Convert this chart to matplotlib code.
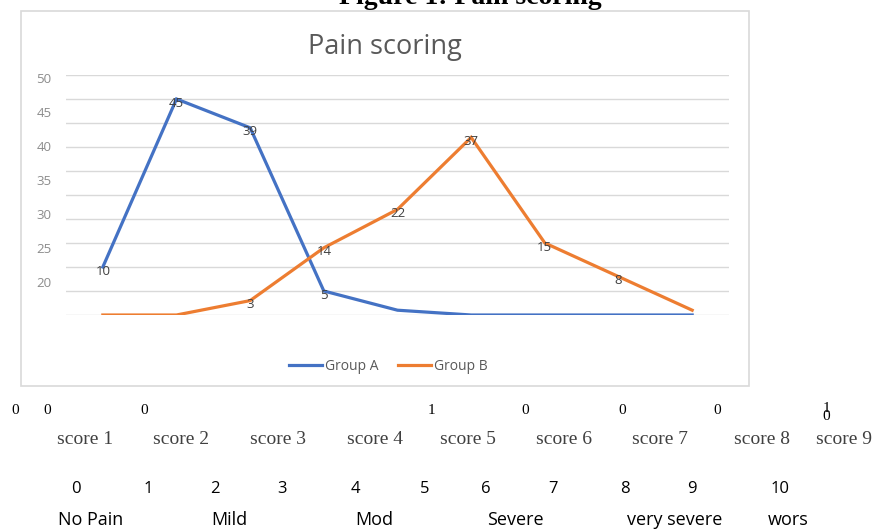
import matplotlib.pyplot as plt
from matplotlib.patches import Rectangle

scores = ["score 1", "score 2", "score 3", "score 4", "score 5",
          "score 6", "score 7", "score 8", "score 9"]
group_a = [10, 45, 39, 5, 1, 0, 0, 0, 0]
group_b = [0, 0, 3, 14, 22, 37, 15, 8, 1]
labelled_a = [0, 1, 2, 3]
labelled_b = [2, 3, 4, 5, 6, 7]
axis_labels = [20, 25, 30, 35, 40, 45, 50]

count_row = ["0", "0", "0", "1", "0", "0", "0", "1", "0"]
scale_numbers = ["0", "1", "2", "3", "4", "5", "6", "7", "8", "9", "10"]
severity = ["No Pain", "Mild", "Mod", "Severe", "very severe", "wors"]

W, H = 883, 530
fig = plt.figure(figsize=(W / 100, H / 100), dpi=100)


def fx(px):
    return px / W


def fy(py):
    return 1 - py / H


blue = "#4472C4"
orange = "#ED7D31"
grid = "#d9d9d9"

# chart frame
fig.patches.append(Rectangle((fx(21), fy(386)), fx(749) - fx(21), fy(11) - fy(386),
                             transform=fig.transFigure, fill=False,
                             edgecolor="#d9d9d9", linewidth=1.2))

ax = fig.add_axes([fx(66), fy(315), fx(729) - fx(66), fy(75) - fy(315)])
ax.set_xlim(-0.5, len(scores) - 0.5)
ax.set_ylim(0, 50)
ax.set_yticks(range(0, 51, 5))
ax.grid(axis="y", color=grid, linewidth=1)
ax.set_axisbelow(True)
for s in ax.spines.values():
    s.set_visible(False)

x = list(range(len(scores)))
la, = ax.plot(x, group_a, color=blue, linewidth=2.3, label="Group A", solid_joinstyle="miter")
lb, = ax.plot(x, group_b, color=orange, linewidth=2.3, label="Group B", solid_joinstyle="miter")

for i in labelled_a:
    ax.annotate(str(group_a[i]), (i, group_a[i]), xytext=(0, -3), textcoords="offset points",
                ha="center", va="center", fontsize=9.5, color="#404040", family="Open Sans")
for i in labelled_b:
    ax.annotate(str(group_b[i]), (i, group_b[i]), xytext=(0, -3), textcoords="offset points",
                ha="center", va="center", fontsize=9.5, color="#404040", family="Open Sans")

# value axis labels sit on their own scale
tw = ax.twinx()
tw.set_ylim(15.15, 50.44)
tw.set_yticks(axis_labels)
tw.yaxis.tick_left()
tw.tick_params(axis="y", length=0, pad=10.5, labelsize=9.5, labelcolor="#8c8c8c")
for t in tw.get_yticklabels():
    t.set_family("Open Sans")
for s in tw.spines.values():
    s.set_visible(False)
tw.tick_params(axis="x", bottom=False, labelbottom=False)
ax.tick_params(left=False, bottom=False, right=False, labelleft=False,
               labelbottom=False, labelright=False)

fig.text(fx(385), fy(47), "Pain scoring", ha="center", va="center",
         fontsize=19.5, color="#595959", family="Open Sans")
fig.text(fx(470), fy(4.5), "Figure 1: Pain scoring", ha="center", va="baseline",
         fontsize=20, fontweight="bold", family="Liberation Serif", color="black")

ax.legend(handles=[la, lb], loc="center", bbox_to_anchor=(fx(388), fy(366)),
          bbox_transform=fig.transFigure, ncol=2, frameon=False,
          prop={"family": "Open Sans", "size": 10}, labelcolor="#595959",
          handlelength=2.4, handletextpad=0.2, columnspacing=1.4)

# table rows printed underneath the chart
count_x = [15, 47, 144, 431, 525, 622, 717, 826, 826]
count_y = [411, 411, 411, 411, 411, 411, 411, 409, 416]
for t, px, py in zip(count_row, count_x, count_y):
    fig.text(fx(px), fy(py), t, ha="center", va="center", fontsize=11,
             family="Liberation Serif", color="black")

score_x = [85, 181, 278, 375, 468, 564, 660, 762, 844]
for t, px in zip(scores, score_x):
    fig.text(fx(px), fy(440), t, ha="center", va="center", fontsize=14,
             family="Liberation Serif", color="#404040")

num_x = [76, 148, 215, 282, 355, 425, 486, 553, 625, 692, 780]
for t, px in zip(scale_numbers, num_x):
    fig.text(fx(px), fy(489), t, ha="center", va="center", fontsize=12,
             family="Open Sans", color="black")

sev_x = [91, 229, 374, 515, 675, 788]
for t, px in zip(severity, sev_x):
    fig.text(fx(px), fy(520), t, ha="center", va="center", fontsize=13,
             family="Open Sans", color="black")

fig.savefig("out.png", dpi=100)
